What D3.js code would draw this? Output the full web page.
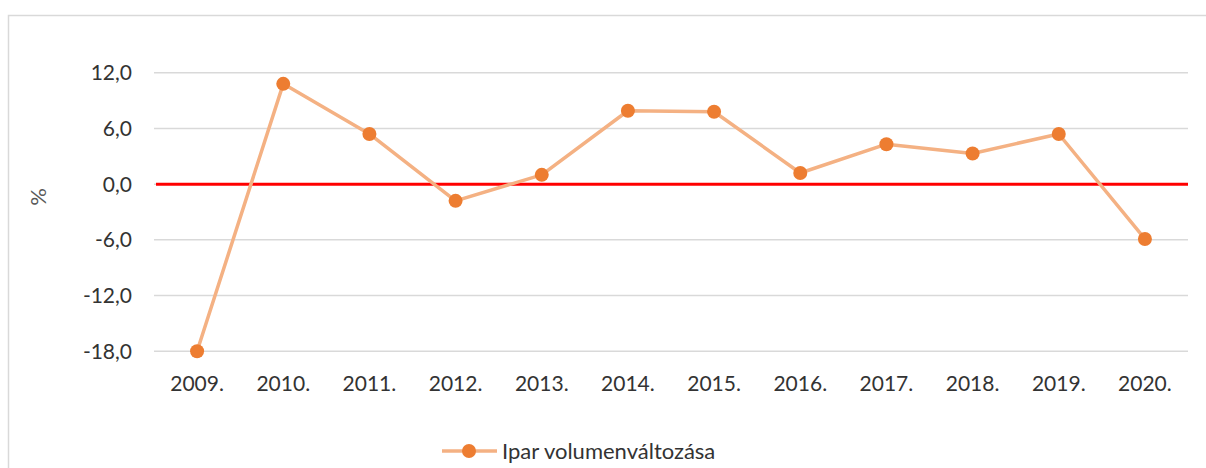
<!DOCTYPE html>
<html>
<head>
<meta charset="utf-8">
<script src="https://cdn.jsdelivr.net/npm/d3@7"></script>
<style>
  body { margin: 0; background: #fff; }
  svg text { font-family: Lato, "Open Sans", sans-serif; }
</style>
</head>
<body>
<div class="canvas"></div>
<script>
const years = ['2009.', '2010.', '2011.', '2012.', '2013.', '2014.', '2015.', '2016.', '2017.', '2018.', '2019.', '2020.'];
const values = [-18.0, 10.8, 5.4, -1.8, 1.0, 7.9, 7.8, 1.2, 4.3, 3.3, 5.4, -5.9];
const yTicks = [-18, -12, -6, 0, 6, 12];
const seriesName = 'Ipar volumenváltozása';
const axisLabel = '%';

const width = 1206, height = 468;

const svg = d3.select('.canvas')
  .append('svg')
  .attr('width', width)
  .attr('height', height);

// chart area border
svg.append('rect')
  .attr('x', 8.5)
  .attr('y', 15.5)
  .attr('width', 1210)
  .attr('height', 470)
  .attr('fill', 'none')
  .attr('stroke', '#d9d9d9')
  .attr('stroke-width', 1.5);

const x = d3.scaleBand()
  .domain(years)
  .range([154, 1188]);

const y = d3.scaleLinear()
  .domain([-18, 12])
  .range([351.3, 72.7]);

// gridlines
svg.append('g')
  .selectAll('line')
  .data(yTicks)
  .enter()
  .append('line')
  .attr('x1', 154)
  .attr('x2', 1188)
  .attr('y1', d => y(d))
  .attr('y2', d => y(d))
  .attr('stroke', '#d9d9d9')
  .attr('stroke-width', 1.5);

// y tick labels
svg.append('g')
  .selectAll('text')
  .data(yTicks)
  .enter()
  .append('text')
  .attr('x', 132)
  .attr('y', d => y(d))
  .attr('dy', '0.36em')
  .attr('text-anchor', 'end')
  .attr('fill', '#333')
  .style('font-size', '21px')
  .text(d => d3.format('.1f')(d).replace('.', ',').replace('−', '-'));

// x tick labels
svg.append('g')
  .selectAll('text')
  .data(years)
  .enter()
  .append('text')
  .attr('x', d => x(d) + x.bandwidth() / 2)
  .attr('y', 391)
  .attr('text-anchor', 'middle')
  .attr('fill', '#333')
  .style('font-size', '21px')
  .text(d => d);

// axis title
svg.append('text')
  .attr('transform', 'translate(46, 197) rotate(-90)')
  .attr('text-anchor', 'middle')
  .attr('fill', '#595959')
  .style('font-size', '22px')
  .text(axisLabel);

// zero line
svg.append('line')
  .attr('x1', 156)
  .attr('x2', 1188)
  .attr('y1', y(0))
  .attr('y2', y(0))
  .attr('stroke', '#ff0000')
  .attr('stroke-width', 3);

const line = d3.line()
  .x((d, i) => x(years[i]) + x.bandwidth() / 2)
  .y(d => y(d));

svg.append('path')
  .datum(values)
  .attr('d', line)
  .attr('fill', 'none')
  .attr('stroke', '#f4b183')
  .attr('stroke-width', 3.5)
  .attr('stroke-linejoin', 'round');

svg.append('g')
  .selectAll('circle')
  .data(values)
  .enter()
  .append('circle')
  .attr('cx', (d, i) => x(years[i]) + x.bandwidth() / 2)
  .attr('cy', d => y(d))
  .attr('r', 7)
  .attr('fill', '#ed7d31');

// legend
const legend = svg.append('g')
  .attr('transform', 'translate(442, 451)');

legend.append('line')
  .attr('x1', 0)
  .attr('x2', 55)
  .attr('stroke', '#f4b183')
  .attr('stroke-width', 3.5);

legend.append('circle')
  .attr('cx', 27)
  .attr('r', 7)
  .attr('fill', '#ed7d31');

legend.append('text')
  .attr('x', 60)
  .attr('dy', '0.36em')
  .attr('fill', '#333')
  .style('font-size', '22px')
  .text(seriesName);
</script>
</body>
</html>
